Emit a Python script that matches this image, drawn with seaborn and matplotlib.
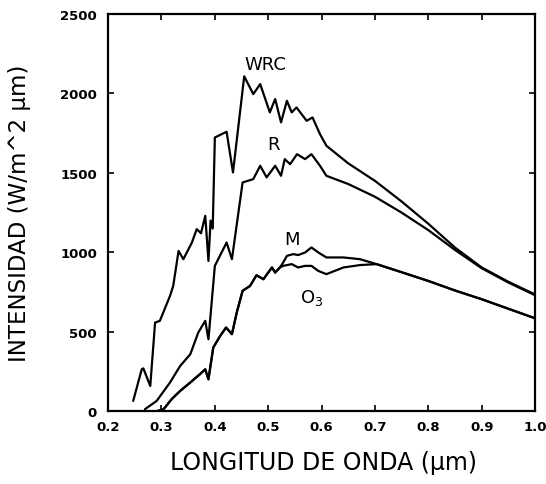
import pandas as pd
import matplotlib
matplotlib.use("Agg")
import matplotlib.pyplot as plt
import seaborn as sns

# values
wrc_wl = [0.247, 0.263, 0.266, 0.279, 0.288, 0.297, 0.316, 0.322, 0.332, 0.341,
          0.357, 0.366, 0.374, 0.382, 0.388, 0.392, 0.396, 0.400, 0.422, 0.434,
          0.455, 0.472, 0.485, 0.503, 0.513, 0.524, 0.535, 0.544, 0.553, 0.572,
          0.583, 0.597, 0.609, 0.65, 0.70, 0.75, 0.80, 0.85, 0.90, 0.95, 1.00]
wrc_int = [65, 264, 270, 159, 558, 569, 726, 789, 1009, 957,
           1062, 1146, 1120, 1230, 946, 1200, 1150, 1723, 1759, 1503,
           2108, 1996, 2059, 1881, 1965, 1818, 1954, 1881, 1912, 1828,
           1849, 1744, 1671, 1560, 1450, 1320, 1180, 1030, 905, 815, 735]

r_wl = [0.269, 0.291, 0.316, 0.335, 0.354, 0.369, 0.382, 0.388, 0.400, 0.422,
        0.432, 0.452, 0.472, 0.485, 0.497, 0.513, 0.524, 0.531, 0.541, 0.554,
        0.569, 0.581, 0.597, 0.609, 0.65, 0.70, 0.75, 0.80, 0.85, 0.90, 0.95, 1.00]
r_int = [13, 65, 181, 285, 359, 496, 569, 453, 915, 1062,
         957, 1440, 1461, 1545, 1472, 1545, 1482, 1587, 1555, 1618,
         1587, 1618, 1545, 1482, 1430, 1350, 1250, 1140, 1015, 900, 810, 730]

# M and O3 share the short-wave part and the long-wave tail
low_wl = [0.291, 0.304, 0.319, 0.335, 0.354, 0.372, 0.382, 0.388, 0.397, 0.410,
          0.421, 0.432, 0.441, 0.452, 0.466, 0.478, 0.491, 0.507, 0.513, 0.522]
low_int = [0, 13, 76, 128, 181, 233, 264, 201, 401, 474,
           527, 485, 621, 758, 789, 856, 831, 905, 873, 905]
tail_wl = [0.75, 0.80, 0.85, 0.90, 0.95, 1.00]
tail_int = [875, 820, 760, 705, 645, 585]

m_mid_wl = [0.528, 0.535, 0.547, 0.556, 0.569, 0.581, 0.594, 0.609, 0.641, 0.672, 0.703]
m_mid_int = [936, 978, 989, 983, 999, 1031, 999, 968, 968, 957, 926]
o3_mid_wl = [0.528, 0.544, 0.556, 0.569, 0.581, 0.594, 0.609, 0.641, 0.672, 0.703]
o3_mid_int = [915, 926, 905, 915, 915, 883, 863, 905, 920, 926]

frames = [
    pd.DataFrame({"wl": wrc_wl, "I": wrc_int, "serie": "WRC"}),
    pd.DataFrame({"wl": r_wl, "I": r_int, "serie": "R"}),
    pd.DataFrame({"wl": low_wl + m_mid_wl + tail_wl,
                  "I": low_int + m_mid_int + tail_int, "serie": "M"}),
    pd.DataFrame({"wl": low_wl + o3_mid_wl + tail_wl,
                  "I": low_int + o3_mid_int + tail_int, "serie": "O3"}),
]
df = pd.concat(frames, ignore_index=True)

sns.set_style("ticks", {"axes.edgecolor": "black", "text.color": "black",
                        "axes.labelcolor": "black", "xtick.color": "black",
                        "ytick.color": "black"})
plt.rcParams['font.family'] = ['DejaVu Sans']

fig = plt.figure(figsize=(5.46, 4.85), dpi=100)
ax = fig.add_axes([0.198, 0.150, 0.782, 0.819])

sns.lineplot(data=df, x="wl", y="I", units="serie", estimator=None, sort=False,
             color="black", linewidth=1.6, ax=ax)

ax.set_xlim(0.2, 1.0)
ax.set_ylim(0, 2500)
ax.set_xticks([0.2, 0.3, 0.4, 0.5, 0.6, 0.7, 0.8, 0.9, 1.0])
ax.set_xticklabels(["0.2", "0.3", "0.4", "0.5", "0.6", "0.7", "0.8", "0.9", "1.0"])
ax.set_yticks([0, 500, 1000, 1500, 2000, 2500])
ax.tick_params(direction="in", top=True, right=True, length=4, width=1.2,
               labelsize=9.5)
ax.tick_params(axis="y", pad=8)
ax.tick_params(axis="x", pad=6)
for lbl in ax.get_xticklabels() + ax.get_yticklabels():
    lbl.set_fontweight("bold")
for sp in ax.spines.values():
    sp.set_linewidth(1.6)

ax.set_xlabel("LONGITUD DE ONDA (μm)", fontsize=17)
ax.set_ylabel("INTENSIDAD (W/m^2 μm)", fontsize=16.5)
ax.xaxis.set_label_coords(0.505, -0.098)
ax.yaxis.set_label_coords(-0.18, 0.5)

ax.text(0.494, 2185, "WRC", fontsize=13, ha="center", va="center")
ax.text(0.510, 1681, "R", fontsize=13, ha="center", va="center")
ax.text(0.544, 1083, "M", fontsize=13, ha="center", va="center")
ax.text(0.581, 718, "O$_3$", fontsize=13, ha="center", va="center")

fig.savefig("out.png", dpi=100)
